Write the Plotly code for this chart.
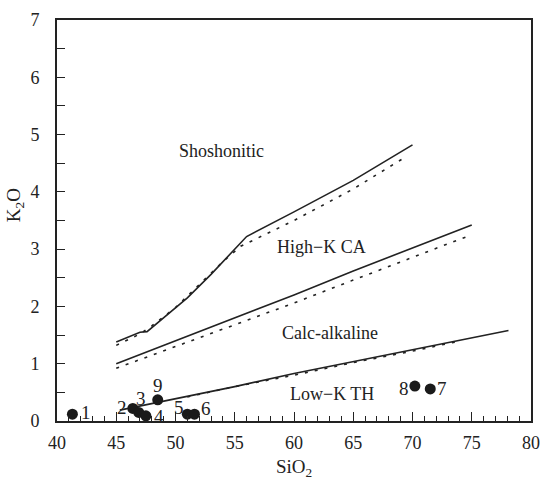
import plotly.graph_objects as go

# boundary lines (solid and dashed versions)
sho_x = [45, 46, 47, 47.6, 49, 51, 53, 55, 56, 60, 65, 70]
sho_y = [1.38, 1.47, 1.55, 1.56, 1.8, 2.15, 2.56, 3.0, 3.22, 3.65, 4.2, 4.82]
sho_dash_x = [45, 46, 47, 48, 50, 52, 54, 55.5, 60, 65, 69.5]
sho_dash_y = [1.32, 1.42, 1.52, 1.66, 1.98, 2.38, 2.78, 3.05, 3.5, 4.05, 4.62]

hk_x = [45, 50, 55, 60, 65, 70, 75]
hk_y = [1.0, 1.4, 1.8, 2.2, 2.62, 3.02, 3.42]
hk_dash_x = [45, 50, 55, 60, 65, 70, 74.6]
hk_dash_y = [0.92, 1.3, 1.68, 2.06, 2.46, 2.86, 3.22]

ca_x = [45.3, 50, 55, 60, 65, 70, 75, 78.1]
ca_y = [0.19, 0.39, 0.6, 0.83, 1.04, 1.25, 1.46, 1.58]
ca_dash_x = [51, 55, 60, 65, 70, 74.1]
ca_dash_y = [0.42, 0.6, 0.8, 1.02, 1.22, 1.40]

# samples
sample_names = ["1", "2", "3", "4", "5", "6", "7", "8", "9"]
sio2 = [41.3, 46.4, 46.9, 47.5, 51.0, 51.6, 71.5, 70.2, 48.5]
k2o = [0.12, 0.22, 0.15, 0.09, 0.12, 0.12, 0.56, 0.61, 0.37]

region_names = ["Shoshonitic", "High\u2212K CA", "Calc-alkaline", "Low\u2212K TH"]
region_x = [53.9, 62.3, 63.0, 63.2]
region_y = [4.72, 3.03, 1.53, 0.48]

line_col = "#222222"
font_fam = "Liberation Serif"

fig = go.Figure()

for xs, ys in [(sho_x, sho_y), (hk_x, hk_y), (ca_x, ca_y)]:
    fig.add_trace(go.Scatter(x=xs, y=ys, mode="lines",
                             line=dict(color=line_col, width=1.6),
                             showlegend=False, hoverinfo="skip"))

for xs, ys in [(sho_dash_x, sho_dash_y), (hk_dash_x, hk_dash_y), (ca_dash_x, ca_dash_y)]:
    fig.add_trace(go.Scatter(x=xs, y=ys, mode="lines",
                             line=dict(color=line_col, width=1.6, dash="3px,7px"),
                             showlegend=False, hoverinfo="skip"))

fig.add_trace(go.Scatter(x=sio2, y=k2o, mode="markers",
                         marker=dict(color="#1a1a1a", size=11),
                         text=sample_names, showlegend=False))

# label offsets in pixels (x, y)
label_shift = {"1": (14, 2), "2": (-11, 1), "3": (2, 14), "4": (13, -1),
               "5": (-8, 7), "6": (12, 6), "7": (12, 0), "8": (-11, -2), "9": (0, 14)}

for name, xv, yv in zip(sample_names, sio2, k2o):
    dx, dy = label_shift[name]
    fig.add_annotation(x=xv, y=yv, text=name, showarrow=False,
                       xshift=dx, yshift=dy,
                       font=dict(family=font_fam, size=19, color=line_col))

for name, xv, yv in zip(region_names, region_x, region_y):
    fig.add_annotation(x=xv, y=yv, text=name, showarrow=False,
                       font=dict(family=font_fam, size=18, color=line_col))

# axis titles as annotations
fig.add_annotation(xref="paper", yref="paper", x=0.5, y=0, yshift=-47,
                   xanchor="center", yanchor="middle",
                   text="SiO<sub>2</sub>", showarrow=False,
                   font=dict(family=font_fam, size=19, color=line_col))
fig.add_annotation(xref="paper", yref="paper", x=0, y=0.538, xshift=-42,
                   xanchor="center", yanchor="middle",
                   text="K<sub>2</sub>O", textangle=-90, showarrow=False,
                   font=dict(family=font_fam, size=19, color=line_col))

fig.update_layout(
    width=550, height=484,
    margin=dict(l=57, r=15, t=10, b=63),
    plot_bgcolor="white", paper_bgcolor="white",
    font=dict(family=font_fam, size=18, color=line_col),
    xaxis=dict(range=[40, 80], dtick=5, ticks="inside", ticklen=9, tickwidth=1.3,
               tickcolor=line_col, showgrid=False, zeroline=False,
               showline=True, linecolor=line_col, linewidth=1.6, mirror=True,
               ticklabelstandoff=5,
               minor=dict(dtick=1, ticks="inside", ticklen=5, tickwidth=1.2, tickcolor=line_col)),
    yaxis=dict(range=[0, 7], dtick=1, ticks="inside", ticklen=8, tickwidth=1.3,
               tickcolor=line_col, showgrid=False, zeroline=False,
               showline=True, linecolor=line_col, linewidth=1.6, mirror=True,
               ticklabelstandoff=12,
               minor=dict(dtick=0.5, ticks="inside", ticklen=8, tickwidth=1.2, tickcolor=line_col)),
)

# drop the default page margin so the figure sits at the window corner
fig.write_html("out.html", config={"displayModeBar": False},
               post_script="document.body.style.margin='0';")
